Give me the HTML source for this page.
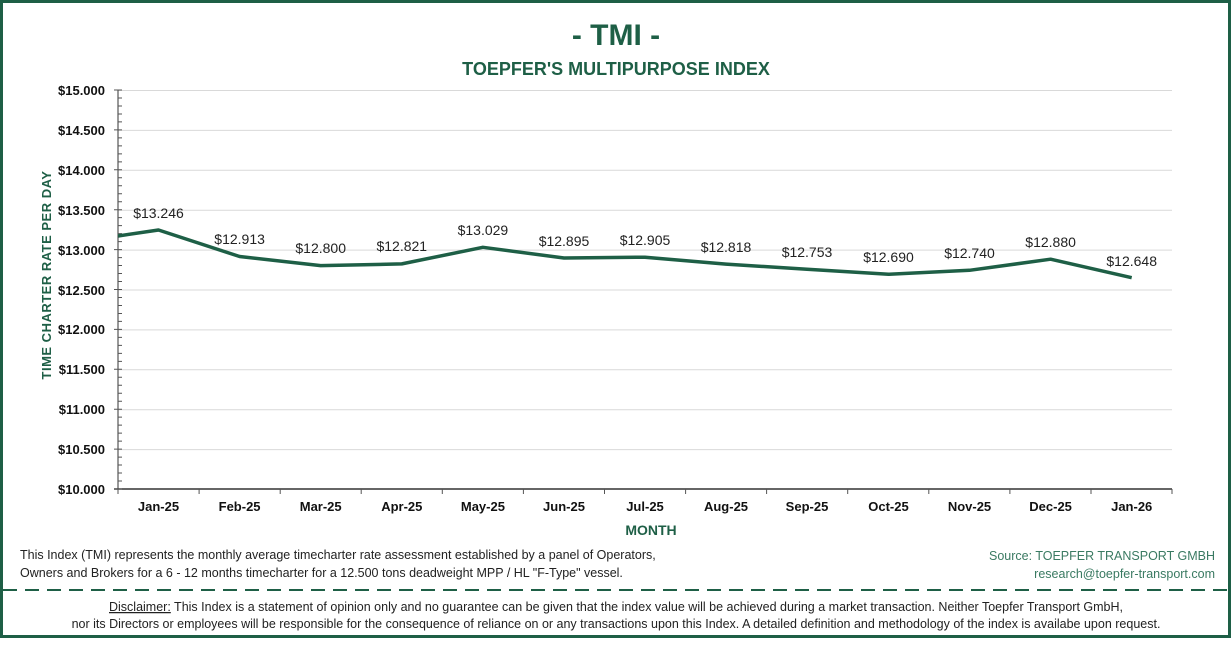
<!DOCTYPE html>
<html><head><meta charset="utf-8"><style>
body{margin:0;background:#fff;}
svg{display:block;font-family:"Liberation Sans",sans-serif;}
</style></head><body>
<svg width="1232" height="648" viewBox="0 0 1232 648" xmlns="http://www.w3.org/2000/svg">
<rect x="1.5" y="1.5" width="1228" height="635" fill="#fff" stroke="#1e5f46" stroke-width="3"/>
<text x="616" y="45" text-anchor="middle" font-size="30" font-weight="bold" fill="#1e5f46">- TMI -</text>
<text x="616" y="75" text-anchor="middle" font-size="18" font-weight="bold" fill="#1e5f46">TOEPFER'S MULTIPURPOSE INDEX</text>
<g stroke="#d9d9d9" stroke-width="1">
<line x1="118" x2="1172" y1="90.5" y2="90.5"/><line x1="118" x2="1172" y1="130.4" y2="130.4"/>
<line x1="118" x2="1172" y1="170.3" y2="170.3"/><line x1="118" x2="1172" y1="210.2" y2="210.2"/>
<line x1="118" x2="1172" y1="250.1" y2="250.1"/><line x1="118" x2="1172" y1="290" y2="290"/>
<line x1="118" x2="1172" y1="329.9" y2="329.9"/><line x1="118" x2="1172" y1="369.8" y2="369.8"/>
<line x1="118" x2="1172" y1="409.7" y2="409.7"/><line x1="118" x2="1172" y1="449.6" y2="449.6"/>
</g>
<g stroke="#333" stroke-width="1">
<line x1="118" x2="118" y1="90" y2="489"/>
<line x1="114" x2="1172" y1="489" y2="489" stroke-width="1.5"/>
</g>
<path stroke="#555" stroke-width="1" fill="none" d="M114 90H122M118 97.98H122M118 105.96H122M118 113.94H122M118 121.92H122M114 129.9H122M118 137.88H122M118 145.86H122M118 153.84H122M118 161.82H122M114 169.8H122M118 177.78H122M118 185.76H122M118 193.74H122M118 201.72H122M114 209.7H122M118 217.68H122M118 225.66H122M118 233.64H122M118 241.62H122M114 249.6H122M118 257.58H122M118 265.56H122M118 273.54H122M118 281.52H122M114 289.5H122M118 297.48H122M118 305.46H122M118 313.44H122M118 321.42H122M114 329.4H122M118 337.38H122M118 345.36H122M118 353.34H122M118 361.32H122M114 369.3H122M118 377.28H122M118 385.26H122M118 393.24H122M118 401.22H122M114 409.2H122M118 417.18H122M118 425.16H122M118 433.14H122M118 441.12H122M114 449.1H122M118 457.08H122M118 465.06H122M118 473.04H122M118 481.02H122M114 489H122M118 489V494M199.1 489V494M280.2 489V494M361.2 489V494M442.3 489V494M523.4 489V494M604.5 489V494M685.6 489V494M766.6 489V494M847.7 489V494M928.8 489V494M1009.9 489V494M1091 489V494M1172 489V494"/>
<g font-size="13" font-weight="bold" fill="#111" text-anchor="end">
<text x="105" y="95">$15.000</text><text x="105" y="135">$14.500</text><text x="105" y="175">$14.000</text>
<text x="105" y="215">$13.500</text><text x="105" y="255">$13.000</text><text x="105" y="295">$12.500</text>
<text x="105" y="334">$12.000</text><text x="105" y="374">$11.500</text><text x="105" y="414">$11.000</text>
<text x="105" y="454">$10.500</text><text x="105" y="494">$10.000</text>
</g>
<text transform="translate(51,275) rotate(-90)" text-anchor="middle" font-size="13" font-weight="bold" fill="#1e5f46" letter-spacing="0.5">TIME CHARTER RATE PER DAY</text>
<g font-size="13" font-weight="bold" fill="#111" text-anchor="middle">
<text x="158.5" y="511">Jan-25</text><text x="239.6" y="511">Feb-25</text><text x="320.7" y="511">Mar-25</text>
<text x="401.8" y="511">Apr-25</text><text x="482.9" y="511">May-25</text><text x="564" y="511">Jun-25</text>
<text x="645" y="511">Jul-25</text><text x="726" y="511">Aug-25</text><text x="807" y="511">Sep-25</text>
<text x="888.5" y="511">Oct-25</text><text x="969.5" y="511">Nov-25</text><text x="1050.6" y="511">Dec-25</text>
<text x="1131.7" y="511">Jan-26</text>
</g>
<text x="651" y="535" text-anchor="middle" font-size="14" font-weight="bold" fill="#1e5f46">MONTH</text>
<polyline fill="none" stroke="#1e5f46" stroke-width="3.5" stroke-linejoin="round" points="118,236 158.5,230 239.6,256.5 320.7,265.6 401.8,263.9 482.9,247.3 564,258 645,257.2 726,264.1 807,269.3 888.5,274.3 969.5,270.3 1050.6,259.2 1131.7,277.7"/>
<g font-size="14" fill="#222" text-anchor="middle">
<text x="158.5" y="218">$13.246</text><text x="239.6" y="244">$12.913</text><text x="320.7" y="253">$12.800</text>
<text x="401.8" y="251">$12.821</text><text x="482.9" y="235">$13.029</text><text x="564" y="246">$12.895</text>
<text x="645" y="245">$12.905</text><text x="726" y="252">$12.818</text><text x="807" y="257">$12.753</text>
<text x="888.5" y="262">$12.690</text><text x="969.5" y="258">$12.740</text><text x="1050.6" y="247">$12.880</text>
<text x="1131.7" y="266">$12.648</text>
</g>
<g font-size="12.5" fill="#222">
<text x="20" y="559">This Index (TMI) represents the monthly average timecharter rate assessment established by a panel of Operators,</text>
<text x="20" y="577">Owners and Brokers for a 6 - 12 months timecharter for a 12.500 tons deadweight MPP / HL "F-Type" vessel.</text>
</g>
<g font-size="12.5" fill="#3a7a62" text-anchor="end">
<text x="1215" y="560">Source: TOEPFER TRANSPORT GMBH</text>
<text x="1215" y="578">research@toepfer-transport.com</text>
</g>
<line x1="3" x2="1229" y1="590" y2="590" stroke="#1e5f46" stroke-width="2" stroke-dasharray="14,8"/>
<g font-size="12.5" fill="#222" text-anchor="middle">
<text x="616" y="611"><tspan text-decoration="underline">Disclaimer:</tspan> This Index is a statement of opinion only and no guarantee can be given that the index value will be achieved during a market transaction. Neither Toepfer Transport GmbH,</text>
<text x="616" y="628">nor its Directors or employees will be responsible for the consequence of reliance on or any transactions upon this Index.  A detailed definition and methodology of the index is availabe upon request.</text>
</g>
</svg>
</body></html>
